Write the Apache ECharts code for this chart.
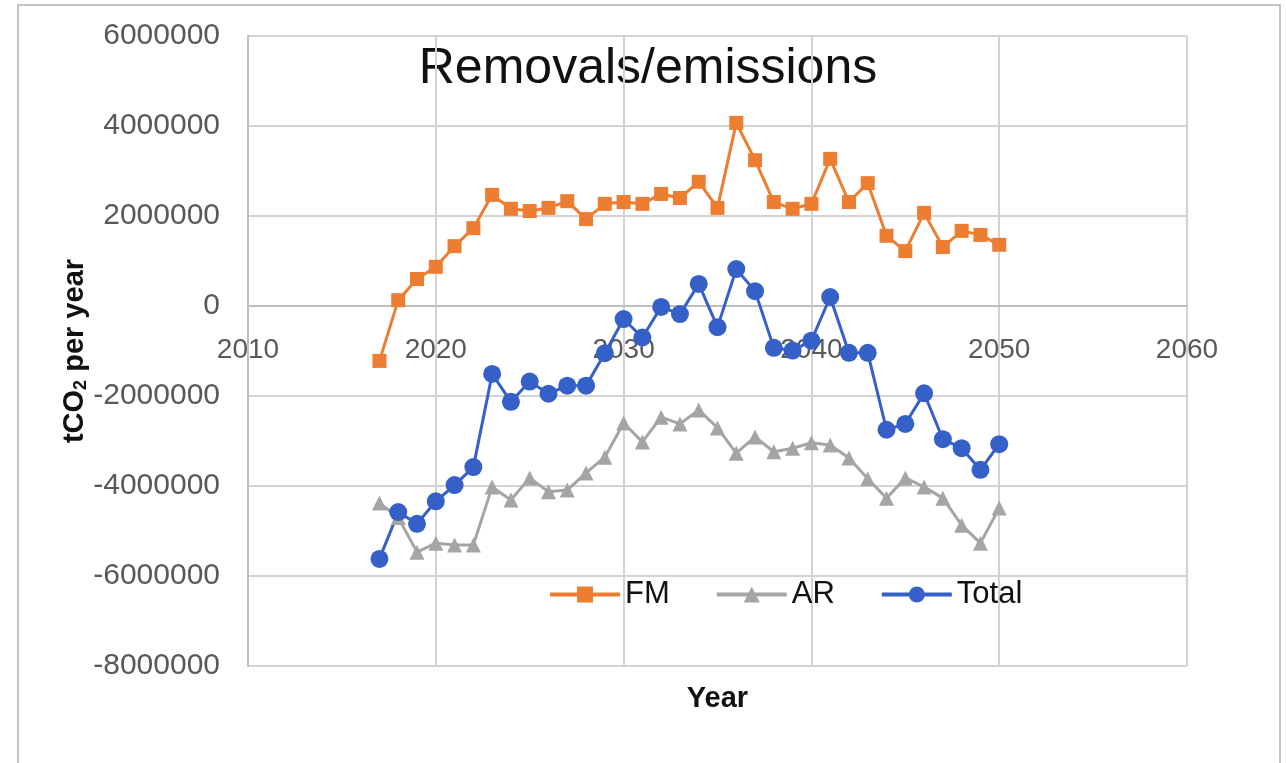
<!DOCTYPE html>
<html>
<head>
<meta charset="utf-8">
<script src="https://cdn.jsdelivr.net/npm/echarts@6/dist/echarts.min.js"></script>
<style>
html,body{margin:0;padding:0;background:#fff;}
#chart{width:1286px;height:763px;}
</style>
</head>
<body>
<div id="chart"></div>
<script>
var years = [2017,2018,2019,2020,2021,2022,2023,2024,2025,2026,2027,2028,2029,2030,2031,2032,2033,2034,2035,2036,2037,2038,2039,2040,2041,2042,2043,2044,2045,2046,2047,2048,2049,2050];
var fm = [-1220000,130000,600000,870000,1330000,1730000,2470000,2160000,2110000,2180000,2330000,1930000,2270000,2310000,2270000,2490000,2400000,2760000,2180000,4070000,3240000,2310000,2160000,2270000,3270000,2310000,2730000,1560000,1220000,2070000,1310000,1670000,1580000,1360000];
var ar = [-4380000,-4700000,-5470000,-5270000,-5310000,-5310000,-4020000,-4310000,-3820000,-4130000,-4090000,-3710000,-3360000,-2600000,-3020000,-2470000,-2620000,-2310000,-2710000,-3270000,-2910000,-3240000,-3160000,-3040000,-3090000,-3380000,-3840000,-4270000,-3820000,-4020000,-4270000,-4870000,-5270000,-4490000];
var total = [-5620000,-4580000,-4840000,-4340000,-3980000,-3580000,-1510000,-2130000,-1680000,-1950000,-1770000,-1770000,-1050000,-290000,-700000,-20000,-180000,490000,-470000,820000,330000,-930000,-990000,-770000,200000,-1040000,-1040000,-2750000,-2620000,-1940000,-2960000,-3160000,-3640000,-3070000];
var seriesNames = ['FM','AR','Total'];
var xTicks = {min:2010, max:2060, interval:10};
var yTicks = {min:-8000000, max:6000000, interval:2000000};

var font = "'Liberation Sans', Arial, sans-serif";
var gridColor = '#d3d3d3';
var labelColor = '#595959';
var gridH = 630;
// x axis crosses at y = 0: shift it up from the bottom of the grid
var xAxisOffset = -gridH * (0 - yTicks.min) / (yTicks.max - yTicks.min);

function pairs(vals){ return years.map(function(y,i){ return [y, vals[i]]; }); }

var chart = echarts.init(document.getElementById('chart'));
chart.setOption({
  backgroundColor:'#ffffff',
  animation:false,
  textStyle:{fontFamily:font},
  graphic:[
    {type:'rect', shape:{x:18,y:5,width:1262,height:820}, style:{fill:'none', stroke:'#c4c4c4', lineWidth:2}, silent:true},
    {type:'text', x:648, y:69, style:{text:'Removals/emissions', fontSize:50, fontFamily:font, fill:'#111', textAlign:'center', textVerticalAlign:'middle'}}
  ],
  grid:{left:248, top:36, width:939, height:gridH, containLabel:false, outerBoundsMode:'none'},
  legend:{
    data:seriesNames, left:543, top:574, itemWidth:70, itemHeight:20, itemGap:45,
    lineStyle:{width:4},
    textStyle:{fontSize:31, color:'#111', fontFamily:font}
  },
  xAxis:{
    type:'value', min:xTicks.min, max:xTicks.max, interval:xTicks.interval,
    position:'bottom', offset:xAxisOffset,
    name:'Year', nameLocation:'middle', nameGap:378,
    nameTextStyle:{fontSize:29, fontWeight:'bold', color:'#111', fontFamily:font},
    axisLine:{show:true, onZero:false, lineStyle:{color:'#bfbfbf', width:2}},
    axisTick:{show:false},
    axisLabel:{fontSize:28, color:labelColor, margin:30, formatter:function(v){return String(v);}},
    splitLine:{show:true, lineStyle:{color:gridColor, width:2}}
  },
  yAxis:{
    type:'value', min:yTicks.min, max:yTicks.max, interval:yTicks.interval,
    name:'tCO{s|2} per year', nameLocation:'middle', nameGap:158, nameRotate:90,
    nameMoveOverlap:false,
    nameTextStyle:{fontSize:29, fontWeight:'bold', color:'#111', fontFamily:font,
      rich:{s:{fontSize:18, fontWeight:'bold', color:'#111', padding:[12,0,0,0], fontFamily:font}}},
    axisLine:{show:true, lineStyle:{color:'#bfbfbf', width:2}},
    axisTick:{show:false},
    axisLabel:{fontSize:30, color:labelColor, margin:28, formatter:function(v){return String(v);}},
    splitLine:{show:true, lineStyle:{color:gridColor, width:2}}
  },
  series:[
    {name:'FM', type:'line', data:pairs(fm), symbol:'rect', symbolSize:14,
     itemStyle:{color:'#ED7D31'}, lineStyle:{color:'#ED7D31', width:3}},
    {name:'AR', type:'line', data:pairs(ar), symbol:'triangle', symbolSize:15,
     itemStyle:{color:'#A5A5A5'}, lineStyle:{color:'#A5A5A5', width:3}},
    {name:'Total', type:'line', data:pairs(total), symbol:'circle', symbolSize:18,
     itemStyle:{color:'#3460C8'}, lineStyle:{color:'#3460C8', width:3}}
  ]
});
</script>
</body>
</html>
